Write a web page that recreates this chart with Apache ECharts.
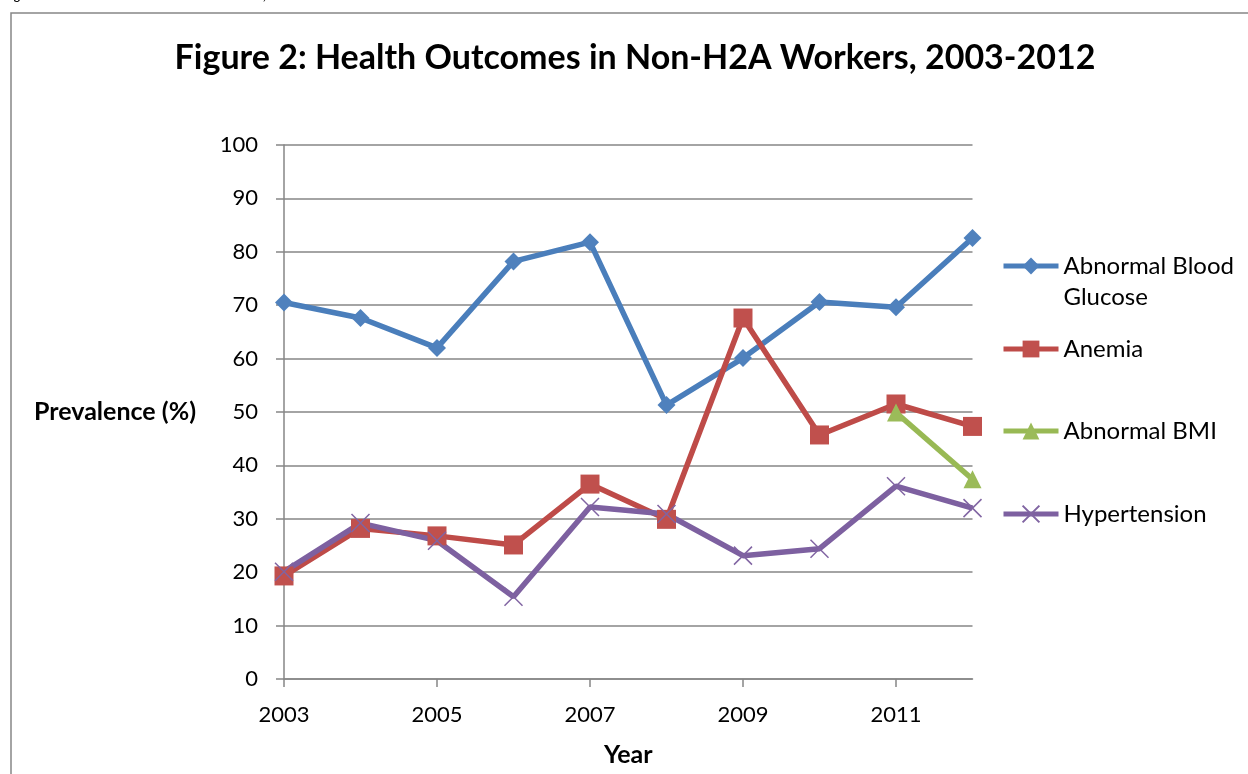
<!DOCTYPE html>
<html>
<head>
<meta charset="utf-8">
<script src="https://cdn.jsdelivr.net/npm/echarts@6/dist/echarts.min.js"></script>
<style>
html,body{margin:0;padding:0;background:#fff;}
#chart{width:1248px;height:774px;}
</style>
</head>
<body>
<div id="chart"></div>
<script>
var years = ['2003','2004','2005','2006','2007','2008','2009','2010','2011','2012'];
var glucose = [70.5, 67.6, 62.0, 78.2, 81.8, 51.3, 60.1, 70.6, 69.6, 82.6];
var anemia = [19.3, 28.2, 26.8, 25.1, 36.5, 29.9, 67.6, 45.7, 51.5, 47.3];
var bmi = [null, null, null, null, null, null, null, null, 49.9, 37.4];
var hypertension = [20.1, 29.2, 25.9, 15.4, 32.2, 30.9, 23.1, 24.4, 36.1, 32.0];
var seriesNames = ['Abnormal Blood Glucose', 'Anemia', 'Abnormal BMI', 'Hypertension'];
var titleText = 'Figure 2: Health Outcomes in Non-H2A Workers, 2003-2012';

var FONT = 'Lato';
var GRAY = '#868686';
var C_BLUE = '#4A7EBB', C_RED = '#BE4B48', C_GREEN = '#98B954', C_PURPLE = '#7D60A0';

var chart = echarts.init(document.getElementById('chart'), null, {renderer: 'canvas'});

function legendFor(name, top) {
  return {
    data: [name],
    orient: 'vertical',
    left: 1001,
    top: top,
    padding: 0,
    itemWidth: 55,
    itemHeight: 21,
    selectedMode: false,
    lineStyle: {width: 5},
    textStyle: {fontFamily: FONT, fontSize: 24, color: '#000', lineHeight: 31},
    formatter: function (n) {
      return n === 'Abnormal Blood Glucose' ? '\nAbnormal Blood\nGlucose' : n;
    }
  };
}

var option = {
  backgroundColor: '#fff',
  animation: false,
  title: {
    text: titleText,
    left: 635,
    textAlign: 'center',
    top: 41,
    padding: 0,
    textStyle: {fontFamily: FONT, fontSize: 34, fontWeight: 'bold', color: '#000', lineHeight: 34}
  },
  graphic: [
    {type: 'rect', shape: {x: 11, y: 13, width: 1300, height: 820}, style: {fill: 'none', stroke: GRAY, lineWidth: 1.5}, z: -10, silent: true},
    {type: 'text', x: 4, y: -4, style: {text: titleText, font: 'bold 12px ' + FONT, fill: '#000', verticalAlign: 'middle'}, silent: true}
  ],
  legend: [
    legendFor(seriesNames[0], 219.5),
    legendFor(seriesNames[1], 333.5),
    legendFor(seriesNames[2], 415.5),
    legendFor(seriesNames[3], 498.5)
  ],
  grid: {left: 284, right: 275.5, top: 145, bottom: 95, containLabel: false},
  xAxis: {
    type: 'category',
    data: years,
    boundaryGap: false,
    name: 'Year',
    nameLocation: 'middle',
    nameGap: 63,
    nameTextStyle: {fontFamily: FONT, fontSize: 25, fontWeight: 'bold', color: '#000'},
    axisLine: {show: true, lineStyle: {color: GRAY, width: 1.5}},
    axisTick: {show: true, length: 8, interval: 1, lineStyle: {color: GRAY, width: 1.5}},
    axisLabel: {interval: 1, margin: 25, fontFamily: FONT, fontSize: 22, color: '#000'},
    splitLine: {show: false}
  },
  yAxis: {
    type: 'value',
    min: 0,
    max: 100,
    interval: 10,
    name: 'Prevalence (%)',
    nameLocation: 'middle',
    nameRotate: 0,
    nameGap: 88,
    nameTextStyle: {fontFamily: FONT, fontSize: 25, fontWeight: 'bold', color: '#000'},
    axisLine: {show: true, lineStyle: {color: GRAY, width: 1.5}},
    axisTick: {show: true, length: 8, lineStyle: {color: GRAY, width: 1.5}},
    axisLabel: {margin: 26, fontFamily: FONT, fontSize: 22, color: '#000'},
    splitLine: {show: true, lineStyle: {color: GRAY, width: 1.5}}
  },
  series: [
    {
      name: seriesNames[0], type: 'line', data: glucose,
      symbol: 'diamond', symbolSize: 18,
      lineStyle: {color: C_BLUE, width: 5.5},
      itemStyle: {color: '#4F81BD'}
    },
    {
      name: seriesNames[1], type: 'line', data: anemia,
      symbol: 'rect', symbolSize: 19,
      lineStyle: {color: C_RED, width: 5.5},
      itemStyle: {color: '#C0504D'}
    },
    {
      name: seriesNames[2], type: 'line', data: bmi,
      symbol: 'triangle', symbolSize: 18,
      lineStyle: {color: C_GREEN, width: 5.5},
      itemStyle: {color: '#9BBB59'}
    },
    {
      name: seriesNames[3], type: 'line', data: hypertension,
      symbol: 'path://M0,0L10,10M10,0L0,10', symbolSize: 18,
      lineStyle: {color: C_PURPLE, width: 5.5},
      itemStyle: {color: 'rgba(0,0,0,0)', borderColor: '#8064A2', borderWidth: 1.5}
    }
  ]
};
chart.setOption(option);
</script>
</body>
</html>
